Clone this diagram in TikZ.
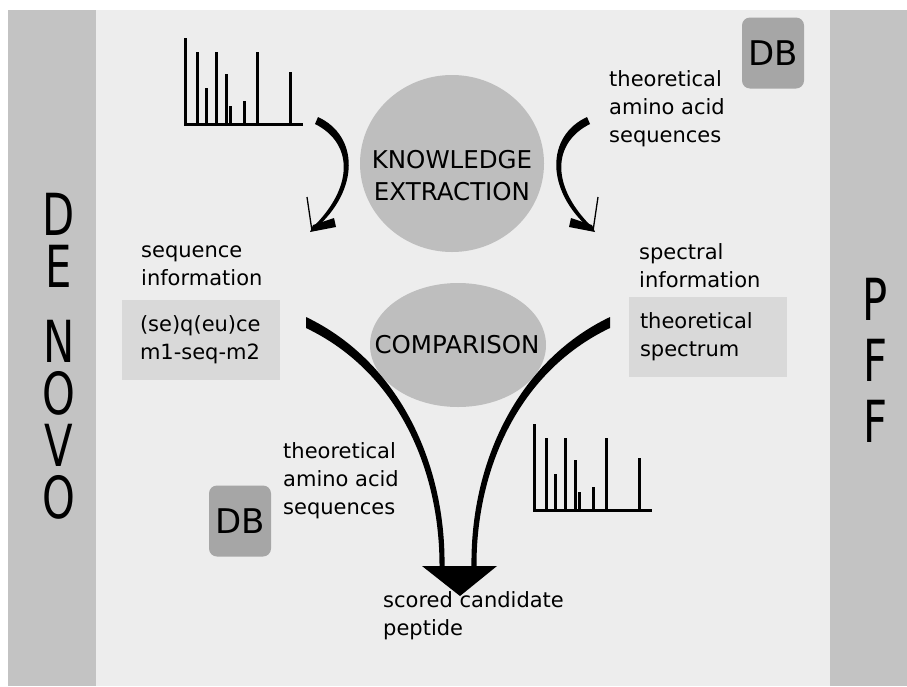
\documentclass[tikz,border=0pt]{standalone}
\usepackage{fontspec}
\setmainfont{DejaVu Sans}
\usetikzlibrary{shapes.geometric}
\definecolor{bandgray}{HTML}{C3C3C3}
\definecolor{panelgray}{HTML}{EDEDED}
\definecolor{ellgray}{HTML}{BEBEBE}
\definecolor{dbgray}{HTML}{A6A6A6}
\definecolor{boxgray}{HTML}{D9D9D9}
\newcommand\ascstrut{\vphantom{h}}
\newcommand\nrw[1]{\scalebox{0.72}[1]{#1}}
\newcommand\curvedarrowshape{%
    \fill (318,117) .. controls (359,136) and (360,190) .. (315,229) -- (311,229) .. controls (355,187) and (353,143) .. (315,124) -- cycle;
    \draw[line width=1.3pt] (312,231) -- (307,197);
    \fill (310,232) -- (336,227) -- (334,218) -- (313,225) -- cycle;
}
\tikzset{
  lbl/.style={inner sep=0pt, anchor=north west, align=left, font=\fontsize{21}{28}\selectfont},
  capslbl/.style={inner sep=0pt, align=center, font=\fontsize{24.5}{32}\selectfont},
  bigword/.style={inner sep=0pt, anchor=north, align=center},
  dbbox/.style={fill=dbgray, rounded corners=8pt, minimum width=62pt, minimum height=71pt, inner sep=0pt, font=\fontsize{34}{34}\selectfont},
  infobox/.style={fill=boxgray, minimum height=80pt, align=left, inner ysep=0pt, font=\fontsize{21}{28}\selectfont},
  specline/.style={line width=3pt},
  spectrum/.pic={
    \draw[specline, line join=miter] (0,-86) -- (0,0) -- (118,0);
    \foreach \px/\py in {12/-72,21/-36,31/-72,41/-50,45/-18,59/-23,72/-72,105/-52}
      \draw[specline] (\px,0) -- (\px,\py);
  }
}
\begin{document}
\begin{tikzpicture}[x=1pt,y=-1pt]
\useasboundingbox (0,0) rectangle (907,686);
\fill[white] (0,0) rectangle (907,686);
\fill[bandgray] (8,10) rectangle (96,686);
\fill[bandgray] (830,10) rectangle (907,686);
\fill[panelgray] (96,10) rectangle (830,686);

% ellipses
\node (ke) [ellipse, fill=ellgray, minimum width=184pt, minimum height=177pt, inner sep=0pt] at (452,163.5) {};
\node (cmp) [ellipse, fill=ellgray, minimum width=176pt, minimum height=124pt, inner sep=0pt] at (458,345) {};
\node (ketext) [capslbl] at (452,176) {KNOWLEDGE\\EXTRACTION};
\node (cmptext) [capslbl] at (457,345) {COMPARISON};

% side words
\node (denovo) [bigword, font=\fontsize{58}{52}\selectfont] at (59,193) {\nrw{D}\\\nrw{E}\\[23pt]\nrw{N}\\\nrw{O}\\\nrw{V}\\\nrw{O}};
\node (pff) [bigword, font=\fontsize{58}{61}\selectfont] at (875,278) {\nrw{P}\\\nrw{F}\\\nrw{F}};

% DB boxes
\node (dbtop) [dbbox] at (773,53) {DB};
\node (dbbot) [dbbox] at (240,521) {DB};

% spectra
\pic at (185,124) {spectrum};
\pic at (534,510) {spectrum};

% curved arrows
\curvedarrowshape
\begin{scope}[xshift=905pt, xscale=-1]
\curvedarrowshape
\end{scope}

% labels
\node (ttop) [lbl] at (609,70) {\ascstrut theoretical\\amino acid\\sequences};
\node (seqinfo) [lbl] at (141,241) {\ascstrut sequence\\information};
\node (specinfo) [lbl] at (639,243) {\ascstrut spectral\\information};
\node (tbot) [lbl] at (283,442) {\ascstrut theoretical\\amino acid\\sequences};
\node (scored) [lbl] at (383,591) {\ascstrut scored candidate\\peptide};

% info boxes
\node (seqbox) [infobox, text width=122pt, inner xsep=18pt] at (201,340) {(se)q(eu)ce\\m1-seq-m2};
\node (specbox) [infobox, text width=136pt, inner xsep=11pt] at (708,337) {theoretical\\spectrum};

% funnel
\fill (306,317) .. controls (400,362) and (446,465) .. (444.5,567) -- (439.5,567) .. controls (440,470) and (398,372) .. (306,328) -- cycle;
\fill (610,317) .. controls (516,362) and (470,465) .. (471.5,567) -- (476.5,567) .. controls (476,470) and (518,372) .. (610,328) -- cycle;
\fill (422,566) -- (497,566) -- (460,596) -- cycle;
\end{tikzpicture}
\end{document}
